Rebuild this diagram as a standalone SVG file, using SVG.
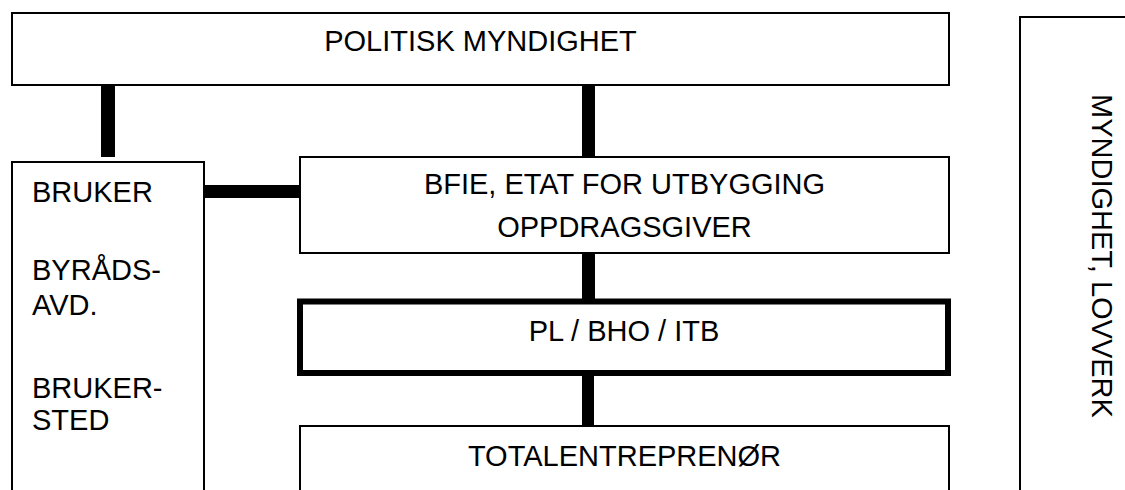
<svg xmlns="http://www.w3.org/2000/svg" width="1125" height="490" viewBox="0 0 1125 490">
<style>
.box{fill:#fff;stroke:#000;stroke-width:2}
.thick{fill:#fff;stroke:#000;stroke-width:6}
.t{font-family:"Liberation Sans",Arial,sans-serif;font-size:29px;fill:#000}
.c{text-anchor:middle}
.conn{fill:#000;stroke:none}
</style>
<rect width="1125" height="490" fill="#fff"/>
<g id="connectors">
<rect class="conn" x="101" y="85" width="14" height="72"/>
<rect class="conn" x="582" y="85" width="13" height="72"/>
<rect class="conn" x="204" y="185" width="96" height="13"/>
<rect class="conn" x="582" y="253" width="13" height="46"/>
<rect class="conn" x="582" y="376" width="12" height="50"/>
</g>
<g id="politisk">
<rect class="box" x="12" y="13" width="937" height="72"/>
<text class="t c" x="480.5" y="51">POLITISK MYNDIGHET</text>
</g>
<g id="bruker">
<rect class="box" x="12" y="162" width="192" height="340"/>
<text class="t" x="32" y="202">BRUKER</text>
<text class="t" x="32" y="280">BYRÅDS-</text>
<text class="t" x="32" y="315">AVD.</text>
<text class="t" x="32" y="398">BRUKER-</text>
<text class="t" x="32" y="430">STED</text>
</g>
<g id="bfie">
<rect class="box" x="300" y="157" width="649" height="96"/>
<text class="t c" x="624.5" y="194">BFIE, ETAT FOR UTBYGGING</text>
<text class="t c" x="624.5" y="237">OPPDRAGSGIVER</text>
</g>
<g id="pl">
<rect class="thick" x="300" y="301.5" width="648" height="71.5"/>
<text class="t c" x="624" y="341">PL / BHO / ITB</text>
</g>
<g id="totalentreprenor">
<rect class="box" x="300" y="426" width="649" height="80"/>
<text class="t c" x="624.5" y="466">TOTALENTREPRENØR</text>
</g>
<g id="myndighet">
<rect class="box" x="1020" y="17" width="120" height="490"/>
<text class="t" transform="translate(1092,94) rotate(90)">MYNDIGHET, LOVVERK</text>
</g>
</svg>
